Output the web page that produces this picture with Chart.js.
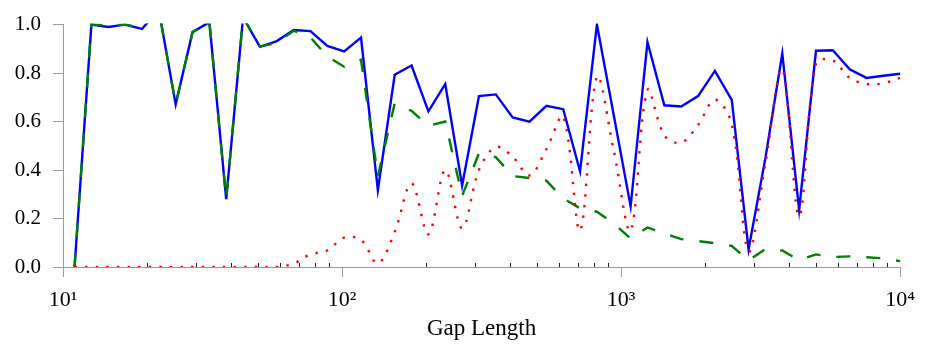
<!DOCTYPE html>
<html>
<head>
<meta charset="utf-8">
<script src="https://cdn.jsdelivr.net/npm/chart.js@4"></script>
<style>
html,body{margin:0;padding:0;background:#ffffff;}
#wrap{width:925px;height:345px;}
</style>
</head>
<body>
<div id="wrap"><canvas id="c" width="925" height="345"></canvas></div>
<script>
// Gap lengths (x positions of samples)
const gapLengths = [11, 12.64, 14.53, 16.69, 19.18, 22.05, 25.34, 29.12, 33.46, 38.45,
  44.19, 50.78, 58.36, 67.06, 77.07, 88.56, 101.74, 116.92, 134.37, 154.41,
  177.45, 203.92, 234.34, 269.3, 309.47, 355.63, 408.68, 469.65, 539.71, 620.22,
  712.75, 819.07, 941.26, 1081.7, 1243.1, 1428.5, 1641.6, 1886.5, 2167.9, 2491.3,
  2862.9, 3290, 3780.8, 4344.8, 4992.9, 5737.7, 6593.6, 7577.2, 8707.5, 10000];

// Solid blue series
const seriesBlue = [0.0, 1.0, 0.99, 1.0, 0.982, 1.06, 0.671, 0.969, 1.01, 0.28,
  1.03, 0.908, 0.932, 0.978, 0.973, 0.912, 0.889, 0.946, 0.317, 0.793,
  0.831, 0.642, 0.755, 0.336, 0.705, 0.712, 0.617, 0.6, 0.665, 0.651,
  0.394, 1.0, 0.626, 0.25, 0.928, 0.667, 0.662, 0.705, 0.809, 0.689,
  0.073, 0.45, 0.881, 0.235, 0.892, 0.894, 0.816, 0.78, 0.789, 0.797];

// Dashed green series
const seriesGreen = [0.0, 1.0, 0.996, 1.0, 0.986, 1.06, 0.671, 0.969, 1.01, 0.28,
  1.03, 0.91, 0.924, 0.975, 0.947, 0.869, 0.826, 0.855, 0.374, 0.675,
  0.644, 0.583, 0.60, 0.293, 0.469, 0.453, 0.375, 0.367, 0.356, 0.283,
  0.242, 0.228, 0.18, 0.117, 0.163, 0.139, 0.115, 0.107, 0.098, 0.087,
  0.027, 0.074, 0.068, 0.028, 0.052, 0.041, 0.044, 0.04, 0.036, 0.024];

// Dotted red series
const seriesRed = [0, 0, 0, 0, 0, 0, 0, 0, 0, 0,
  0, 0, 0, 0.014, 0.052, 0.068, 0.121, 0.112, 0.015, 0.145,
  0.345, 0.135, 0.40, 0.16, 0.40, 0.495, 0.455, 0.378, 0.486, 0.62,
  0.15, 0.785, 0.48, 0.15, 0.73, 0.543, 0.513, 0.586, 0.69, 0.59,
  0.065, 0.43, 0.815, 0.21, 0.84, 0.852, 0.78, 0.755, 0.758, 0.78];

const xTickValues = [10, 20, 30, 40, 50, 60, 70, 80, 90,
  100, 200, 300, 400, 500, 600, 700, 800, 900,
  1000, 2000, 3000, 4000, 5000, 6000, 7000, 8000, 9000, 10000];
const xMajorTicks = [10, 100, 1000, 10000];
const xMajorLabels = ['10\u00B9', '10\u00B2', '10\u00B3', '10\u2074'];
const yTickValues = [0, 0.2, 0.4, 0.6, 0.8, 1.0];
const xTitle = 'Gap Length';

const FONT = '"Liberation Serif", "DejaVu Serif", serif';
const AXIS_COLOR = '#9a9a9a';

function toPoints(ys) {
  return gapLengths.map((x, i) => ({ x: x, y: ys[i] }));
}

const minorTickPlugin = {
  id: 'minorTicks',
  beforeDatasetsDraw(chart) {
    const xs = chart.scales.x;
    const ctx = chart.ctx;
    const yb = Math.round(chart.chartArea.bottom);
    ctx.save();
    ctx.strokeStyle = '#222';
    ctx.lineWidth = 1;
    ctx.beginPath();
    xs.ticks.forEach(t => {
      if (xMajorTicks.includes(t.value)) return;
      const px = Math.round(xs.getPixelForValue(t.value)) + 0.5;
      ctx.moveTo(px, yb);
      ctx.lineTo(px, yb - 4);
    });
    ctx.stroke();
    ctx.restore();
  }
};

new Chart(document.getElementById('c'), {
  type: 'line',
  data: {
    datasets: [
      {
        label: 'blue',
        data: toPoints(seriesBlue),
        borderColor: '#0000ff',
        borderWidth: 2.4,
        pointRadius: 0,
        tension: 0,
        fill: false,
        order: 3,
        clip: { left: 2, top: 1, right: 2, bottom: 2 }
      },
      {
        label: 'green',
        data: toPoints(seriesGreen),
        borderColor: '#008000',
        borderWidth: 2.4,
        borderDash: [14, 16],
        pointRadius: 0,
        tension: 0,
        fill: false,
        order: 2,
        clip: { left: 2, top: 1, right: 2, bottom: 2 }
      },
      {
        label: 'red',
        data: toPoints(seriesRed),
        borderColor: '#ff0000',
        borderWidth: 2.4,
        borderDash: [2.4, 8.2],
        pointRadius: 0,
        tension: 0.35,
        fill: false,
        order: 1,
        clip: { left: 2, top: 1, right: 2, bottom: 0 }
      }
    ]
  },
  options: {
    responsive: false,
    animation: false,
    devicePixelRatio: 1,
    events: [],
    layout: { padding: { top: 19, right: 22, left: 0, bottom: 0 } },
    plugins: {
      legend: { display: false },
      tooltip: { enabled: false },
      title: { display: false }
    },
    scales: {
      x: {
        type: 'logarithmic',
        position: 'bottom',
        min: 10,
        max: 10000,
        afterBuildTicks: s => { s.ticks = xTickValues.map(v => ({ value: v, major: xMajorTicks.includes(v) })); },
        afterFit: s => { s.height = 78; },
        border: { display: true, color: AXIS_COLOR, width: 1 },
        grid: {
          drawOnChartArea: false,
          drawTicks: true,
          tickLength: 10,
          tickWidth: 1,
          tickColor: ctx => (ctx.tick && xMajorTicks.includes(ctx.tick.value)) ? AXIS_COLOR : 'rgba(0,0,0,0)'
        },
        ticks: {
          autoSkip: false,
          maxRotation: 0,
          minRotation: 0,
          padding: 10,
          color: '#000',
          font: { family: FONT, size: 22 },
          callback: (v) => {
            const k = xMajorTicks.indexOf(v);
            return k >= 0 ? xMajorLabels[k] : '';
          }
        },
        title: {
          display: true,
          text: xTitle,
          color: '#000',
          font: { family: FONT, size: 23 },
          padding: { top: 0, bottom: 2 }
        }
      },
      y: {
        type: 'linear',
        position: 'left',
        min: 0,
        max: 1,
        afterBuildTicks: s => { s.ticks = yTickValues.map(v => ({ value: v })); },
        afterFit: s => { s.width = 63; },
        border: { display: true, color: AXIS_COLOR, width: 1 },
        grid: {
          drawOnChartArea: false,
          drawTicks: true,
          tickLength: 10,
          tickWidth: 1,
          tickColor: AXIS_COLOR
        },
        ticks: {
          padding: 12,
          color: '#000',
          font: { family: FONT, size: 21 },
          callback: v => Number(v).toFixed(1)
        }
      }
    }
  },
  plugins: [minorTickPlugin]
});
</script>
</body>
</html>
